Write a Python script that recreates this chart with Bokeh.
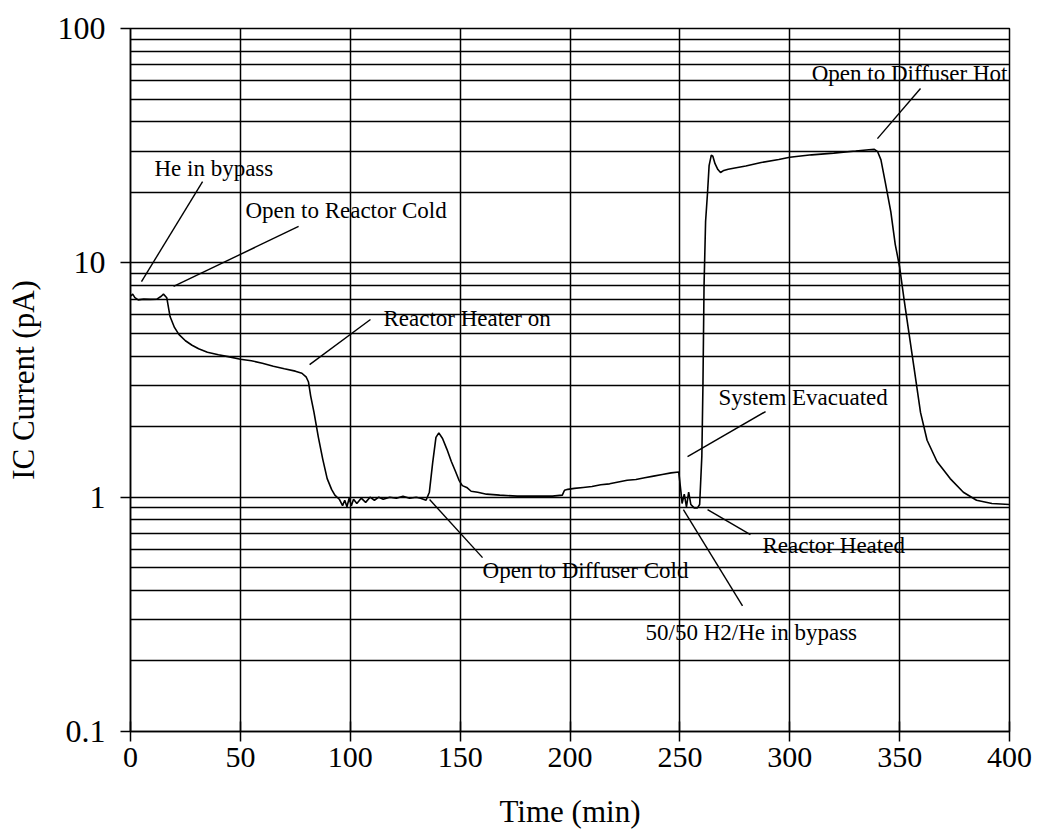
from bokeh.plotting import figure
from bokeh.models import Range1d, FixedTicker, Label, CustomJSTickFormatter
from bokeh.embed import file_html
from bokeh.resources import INLINE

# ---- data ----
time_min = [0, 1, 2, 3.5, 6, 9, 12, 14, 15, 16.5, 18, 20, 22, 25, 28, 31, 35, 40, 45, 50,
            55, 60, 65, 70, 75, 78, 80, 81, 82, 83.5, 85.5, 87.5, 89.5, 91.5, 93, 95, 96.5,
            97.5, 98.5, 99.5, 100.5, 101.5, 103, 105, 107, 109, 111, 113, 115, 118, 121,
            124, 127, 130, 132, 134.5, 136, 137.5, 139, 140.3, 142, 144, 146, 148, 149.5,
            151, 153, 155, 158, 162, 168, 176, 184, 192, 196.5, 197.5, 199, 202, 206, 210,
            214, 218, 222, 226, 230, 234, 238, 242, 246, 249.5, 250.5, 251, 252, 253, 254,
            255, 256.5, 258, 259, 260, 260.5, 261, 261.7, 262.6, 263.3, 264.3, 265, 266,
            267.3, 268.5, 270, 272, 275, 280, 287, 295, 300, 310, 320, 330, 336, 338.5, 340,
            341.5, 343.5, 346, 348, 350, 352, 354, 356.5, 359.5, 362.5, 367, 373, 379, 385,
            392, 400, 404]
ic_current_pA = [7.2, 7.35, 7.1, 6.95, 7.0, 6.98, 7.0, 7.2, 7.35, 7.1, 5.9, 5.3, 4.95, 4.65,
                 4.45, 4.3, 4.15, 4.05, 3.97, 3.88, 3.82, 3.73, 3.62, 3.53, 3.45, 3.38, 3.25,
                 3.1, 2.7, 2.3, 1.8, 1.45, 1.2, 1.08, 1.02, 0.98, 0.92, 0.97, 0.91, 0.99,
                 0.92, 0.98, 0.94, 0.99, 0.95, 1.0, 0.97, 1.0, 0.98, 1.0, 0.99, 1.01, 0.99,
                 1.0, 0.99, 0.97, 1.05, 1.4, 1.8, 1.88, 1.78, 1.6, 1.42, 1.28, 1.18, 1.12,
                 1.1, 1.06, 1.05, 1.03, 1.02, 1.01, 1.01, 1.01, 1.02, 1.07, 1.08, 1.09, 1.1,
                 1.11, 1.13, 1.14, 1.16, 1.18, 1.19, 1.21, 1.23, 1.25, 1.27, 1.28, 1.05, 0.94,
                 1.03, 0.91, 1.05, 0.93, 0.9, 0.9, 0.93, 1.5, 3.0, 8.0, 15.0, 20.0, 26.0,
                 28.8, 28.5, 26.5, 25.0, 24.3, 24.8, 25.1, 25.4, 25.9, 26.8, 27.6, 28.2, 28.9,
                 29.4, 30.0, 30.4, 30.5, 29.8, 27.5, 22.0, 16.5, 12.0, 9.6, 7.0, 5.2, 3.6, 2.3,
                 1.75, 1.42, 1.2, 1.05, 0.97, 0.94, 0.93, 0.93]

x_ticks = [0, 50, 100, 150, 200, 250, 300, 350, 400]
y_ticks = [0.1, 1, 10, 100]
y_minor = [m * d for d in (0.1, 1, 10) for m in range(2, 10)]

ann_text = ["He in bypass", "Open to Reactor Cold", "Reactor Heater on",
            "Open to Diffuser Cold", "System Evacuated", "Reactor Heated",
            "50/50 H2/He in bypass", "Open to Diffuser Hot"]
ann_x = [10.9, 52.3, 115.1, 160.2, 267.6, 287.6, 234.4, 310.0]
ann_y = [25.3, 16.7, 5.78, 0.487, 2.66, 0.622, 0.264, 64.3]
lead_x0 = [32.8, 76.5, 109.2, 136.1, 289.0, 282.1, 278.5, 359.5]
lead_y0 = [22.2, 14.3, 5.73, 0.977, 2.32, 0.692, 0.344, 55.5]
lead_x1 = [5.0, 19.6, 81.5, 160.2, 253.5, 262.6, 251.6, 339.9]
lead_y1 = [8.32, 7.93, 3.68, 0.552, 1.49, 0.885, 0.885, 33.9]

FONT = "Liberation Serif"

p = figure(width=1038, height=837, x_range=Range1d(0, 400), y_range=Range1d(0.1, 100),
           y_axis_type="log", output_backend="svg", toolbar_location=None,
           min_border_left=130, min_border_right=29, min_border_top=28,
           min_border_bottom=106)

p.background_fill_color = "white"
p.border_fill_color = "white"
p.outline_line_color = "black"
p.outline_line_width = 1.5

p.xaxis.ticker = FixedTicker(ticks=x_ticks)
p.yaxis.ticker = FixedTicker(ticks=y_ticks, minor_ticks=y_minor)
p.yaxis.formatter = CustomJSTickFormatter(code="return tick.toString();")

for ax in (p.xaxis, p.yaxis):
    ax.axis_line_color = "black"
    ax.axis_line_width = 1.5
    ax.major_tick_line_color = "black"
    ax.major_tick_line_width = 1.5
    ax.major_tick_out = 10
    ax.minor_tick_out = 0
    ax.minor_tick_in = 0
    ax.major_label_text_font = FONT
    ax.major_label_text_font_size = "30px"
    ax.major_label_text_color = "black"
    ax.axis_label_text_font = FONT
    ax.axis_label_text_font_size = "31px"
    ax.axis_label_text_font_style = "normal"
    ax.axis_label_text_color = "black"

p.yaxis.major_label_text_font_size = "32px"
p.xaxis.major_tick_in = 10
p.yaxis.major_tick_in = 0
p.xaxis.major_label_standoff = 6
p.yaxis.major_label_standoff = 15
p.xaxis.axis_label = "Time (min)"
p.yaxis.axis_label = "IC Current (pA)"
p.xaxis.axis_label_standoff = 24
p.yaxis.axis_label_standoff = 14

p.xgrid.grid_line_color = "black"
p.xgrid.grid_line_width = 1.5
p.ygrid.grid_line_color = "black"
p.ygrid.grid_line_width = 1.5
p.ygrid.minor_grid_line_color = "black"
p.ygrid.minor_grid_line_width = 1.5

p.line(time_min, ic_current_pA, line_color="black", line_width=1.6)

p.segment(x0=lead_x0, y0=lead_y0, x1=lead_x1, y1=lead_y1, line_color="black", line_width=1.4)

for t, x, y in zip(ann_text, ann_x, ann_y):
    p.add_layout(Label(x=x, y=y, text=t, text_font=FONT, text_font_size="23px",
                       text_color="black", text_align="left", text_baseline="middle"))

open("out.html", "w").write(file_html(p, INLINE))
